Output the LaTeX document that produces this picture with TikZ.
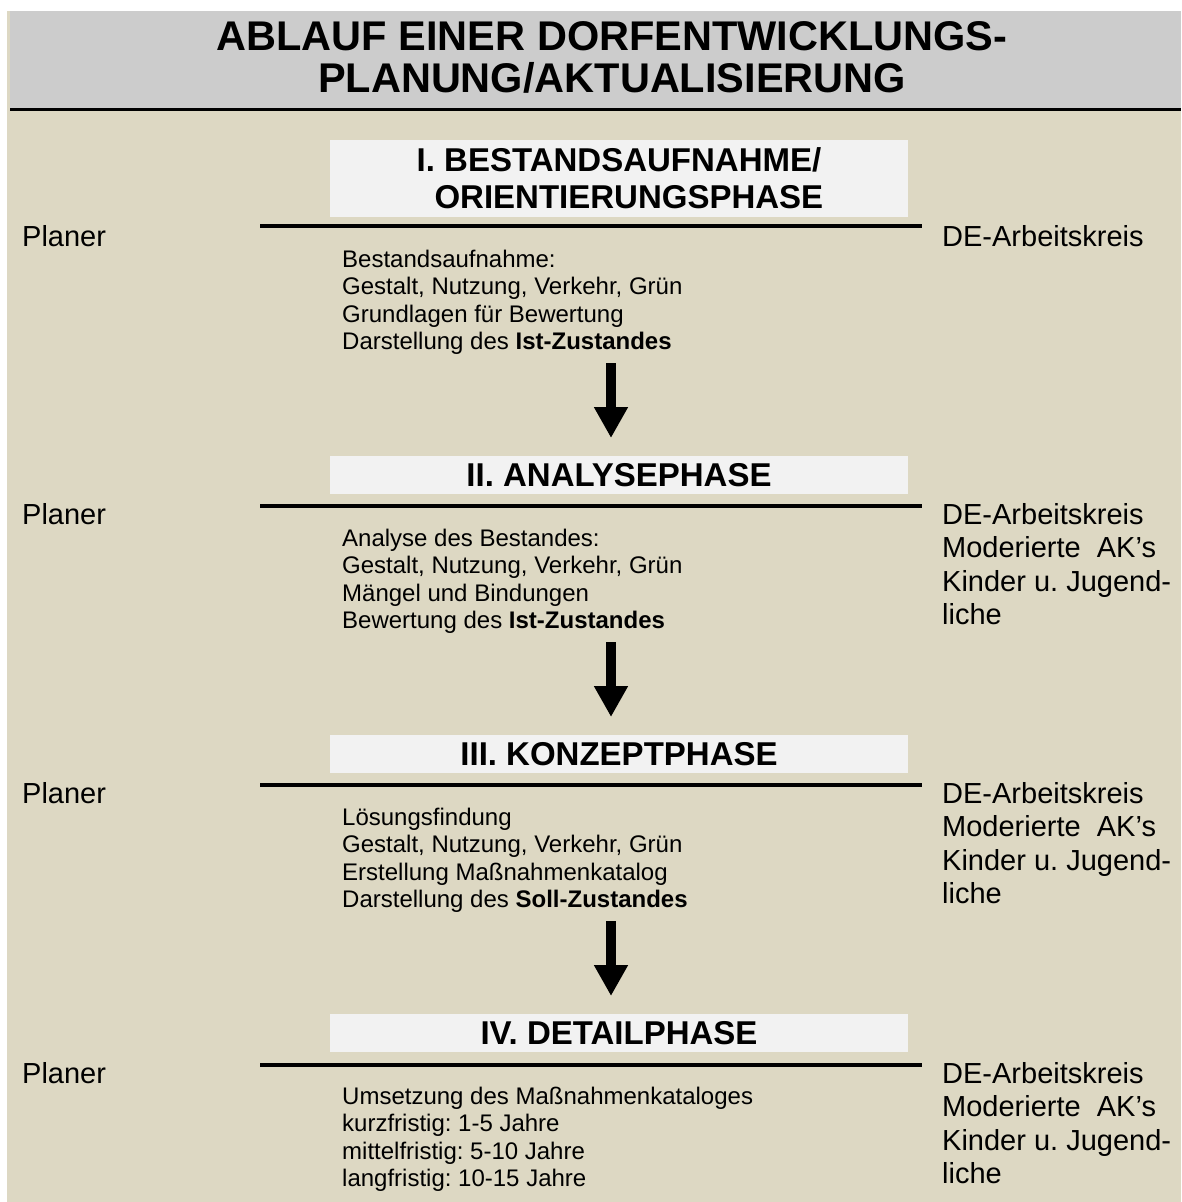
\documentclass[tikz,border=0pt]{standalone}
\usepackage{fontspec}
\setmainfont{Liberation Sans}
\usetikzlibrary{arrows.meta}
\frenchspacing

\definecolor{headgray}{HTML}{CCCCCC}
\definecolor{sand}{HTML}{DDD8C3}
\definecolor{boxwhite}{HTML}{F2F2F2}

\tikzset{
  phasebox/.style={fill=boxwhite, minimum width=578pt, inner sep=0pt,
    font=\fontsize{33}{37}\selectfont\bfseries, align=center},
  phaseline/.style={line width=4.5pt},
  bodytext/.style={anchor=north west, inner sep=0pt, align=left,
    font=\fontsize{24}{27.5}\selectfont},
  sidetext/.style={anchor=north west, inner sep=0pt, align=left,
    font=\fontsize{29}{33.4}\selectfont},
  blockarrow/.style={line width=10pt, -{Triangle[width=32pt,length=31pt]}}
}

\begin{document}
\begin{tikzpicture}[x=1pt,y=-1pt]
            \useasboundingbox (0,0) rectangle (1181,1202);
            % background and header
            \fill[sand] (7,11) rectangle (1181,1202);
            \fill[headgray] (10,11) rectangle (1181,108);
            \draw[line width=2.5pt] (10,109.5) -- (1181,109.5);
            \node[font=\fontsize{41.5}{42}\selectfont\bfseries, align=center] (title) at (612,57)
                {ABLAUF EINER DORFENTWICKLUNGS-\\PLANUNG/AKTUALISIERUNG};

            % phase boxes
            \node[phasebox, minimum height=77pt] (phase1) at (619,178.5)
                {I. BESTANDSAUFNAHME/\\\hspace*{0.6em}ORIENTIERUNGSPHASE};
            \node[phasebox, minimum height=38pt] (phase2) at (619,475) {II. ANALYSEPHASE};
            \node[phasebox, minimum height=38pt] (phase3) at (619,754) {III. KONZEPTPHASE};
            \node[phasebox, minimum height=38pt] (phase4) at (619,1033) {IV. DETAILPHASE};

            % lines under the boxes
            \draw[phaseline] (260,226) -- (922,226);
            \draw[phaseline] (260,506) -- (922,506);
            \draw[phaseline] (260,785) -- (922,785);
            \draw[phaseline] (260,1065) -- (922,1065);

            % who takes part
            \node[sidetext] (planer1) at (22,225) {Planer};
            \node[sidetext] (planer2) at (22,503) {Planer};
            \node[sidetext] (planer3) at (22,782) {Planer};
            \node[sidetext] (planer4) at (22,1062) {Planer};
            \node[sidetext] (ak1) at (942,225) {DE-Arbeitskreis};
            \node[sidetext] (ak2) at (942,503)
                {DE-Arbeitskreis\\Moderierte~ AK’s\\Kinder u. Jugend-\\liche};
            \node[sidetext] (ak3) at (942,782)
                {DE-Arbeitskreis\\Moderierte~ AK’s\\Kinder u. Jugend-\\liche};
            \node[sidetext] (ak4) at (942,1062)
                {DE-Arbeitskreis\\Moderierte~ AK’s\\Kinder u. Jugend-\\liche};

            % contents of each phase
            \node[bodytext] (body1) at (342,249.5)
                {Bestandsaufnahme:\\Gestalt, Nutzung, Verkehr, Grün\\Grundlagen für Bewertung\\Darstellung des \textbf{Ist-Zustandes}};
            \node[bodytext] (body2) at (342,528.5)
                {Analyse des Bestandes:\\Gestalt, Nutzung, Verkehr, Grün\\Mängel und Bindungen\\Bewertung des \textbf{Ist-Zustandes}};
            \node[bodytext] (body3) at (342,807.5)
                {Lösungsfindung\\Gestalt, Nutzung, Verkehr, Grün\\Erstellung Maßnahmenkatalog\\Darstellung des \textbf{Soll-Zustandes}};
            \node[bodytext] (body4) at (342,1086.5)
                {Umsetzung des Maßnahmenkataloges\\kurzfristig: 1-5 Jahre\\mittelfristig: 5-10 Jahre\\langfristig: 10-15 Jahre};

            % arrows between the phases
            \coordinate (a1) at (611,363);
            \coordinate (a1tip) at (611,438);
            \coordinate (a2) at (611,642);
            \coordinate (a2tip) at (611,717);
            \coordinate (a3) at (611,921);
            \coordinate (a3tip) at (611,996);
            \draw[blockarrow] (a1) -- (a1tip);
            \draw[blockarrow] (a2) -- (a2tip);
            \draw[blockarrow] (a3) -- (a3tip);
        \end{tikzpicture}
\end{document}
